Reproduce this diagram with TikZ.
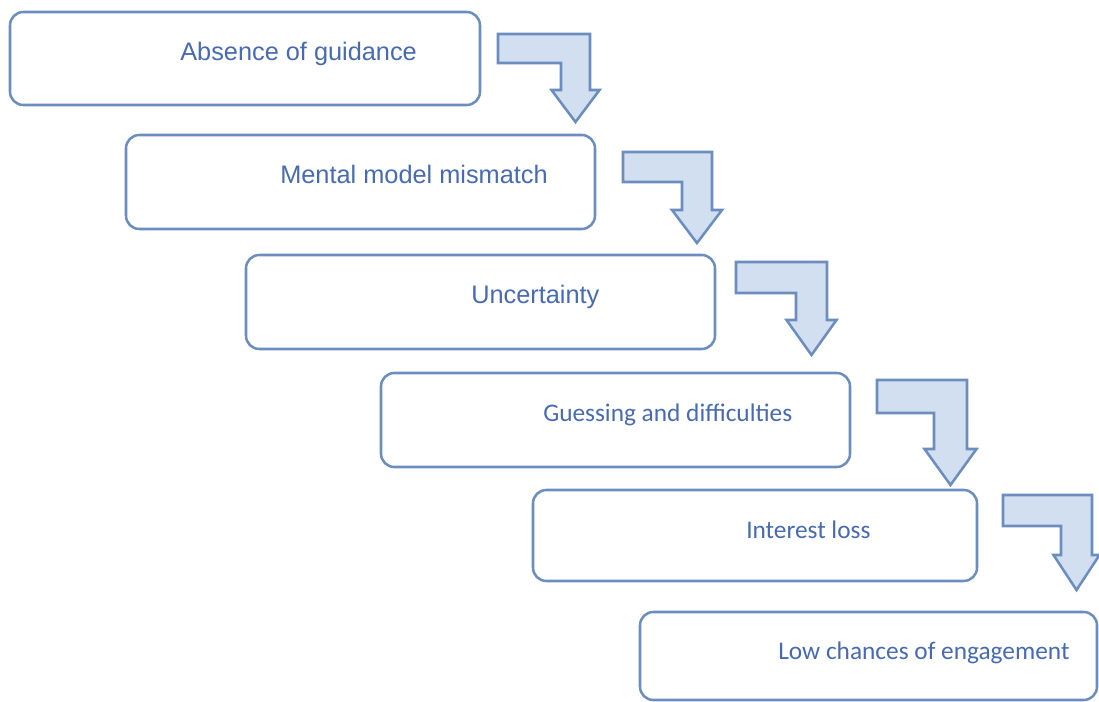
\documentclass[tikz,border=0pt]{standalone}
\usepackage{fontspec}
\setmainfont{Liberation Sans}
\newfontfamily\calibrifont{Carlito}
\definecolor{edgeblue}{RGB}{108,142,191}
\definecolor{textblue}{RGB}{72,106,176}
\definecolor{arrowfill}{RGB}{210,223,240}
\begin{document}
\begin{tikzpicture}[x=0.75pt,y=-0.75pt,
  stagebox/.style={draw=edgeblue, line width=1.9pt, rounded corners=10pt, fill=white, inner sep=0pt},
  stagetext/.style={anchor=base west, inner sep=0pt, text=textblue, font=\fontsize{19pt}{22pt}\selectfont},
  calitext/.style={stagetext, font=\calibrifont\fontsize{19pt}{22pt}\selectfont},
  bentarrow/.style={draw=edgeblue, line width=1.9pt, fill=arrowfill, line join=miter}]
\useasboundingbox (0,0) rectangle (1099,702);

% stage boxes
\node[stagebox, minimum width=352.5pt, minimum height=69.75pt] (b1) at (245,58.5) {};
\node[stagebox, minimum width=351.75pt, minimum height=70.5pt] (b2) at (360.5,182) {};
\node[stagebox, minimum width=351.75pt, minimum height=70.5pt] (b3) at (480.5,302) {};
\node[stagebox, minimum width=351.75pt, minimum height=70.5pt] (b4) at (615.5,420) {};
\node[stagebox, minimum width=333pt, minimum height=68.25pt] (b5) at (755,535.5) {};
\node[stagebox, minimum width=342.75pt, minimum height=66pt] (b6) at (868.5,656) {};

% stage labels
\node[stagetext] (t1) at (180,61) {Absence of guidance};
\node[stagetext] (t2) at (280,184) {Mental model mismatch};
\node[stagetext] (t3) at (471,303) {Uncertainty};
\node[calitext] (t4) at (543,421) {Guessing and difficulties};
\node[calitext] (t5) at (746,538) {Interest loss};
\node[calitext] (t6) at (778,659) {Low chances of engagement};

% bent block arrows between stages
\draw[bentarrow] (498,34) -- (590,34) -- (590,90) -- (599.5,90) -- (575.5,122)
  -- (551.5,90) -- (561,90) -- (561,63) -- (498,63) -- cycle;
\draw[bentarrow] (623,152) -- (712,152) -- (712,210) -- (722,210) -- (697,243)
  -- (672,210) -- (682,210) -- (682,182) -- (623,182) -- cycle;
\draw[bentarrow] (736,262) -- (827,262) -- (827,320) -- (836.5,320) -- (811.5,355)
  -- (786.5,320) -- (796,320) -- (796,293) -- (736,293) -- cycle;
\draw[bentarrow] (877,380) -- (967,380) -- (967,449) -- (976.5,449) -- (950.5,485)
  -- (924.5,449) -- (934,449) -- (934,413) -- (877,413) -- cycle;
\draw[bentarrow] (1003,495) -- (1092,495) -- (1092,555) -- (1099.5,555) -- (1076.5,590)
  -- (1053.5,555) -- (1061,555) -- (1061,526) -- (1003,526) -- cycle;
\end{tikzpicture}
\end{document}
